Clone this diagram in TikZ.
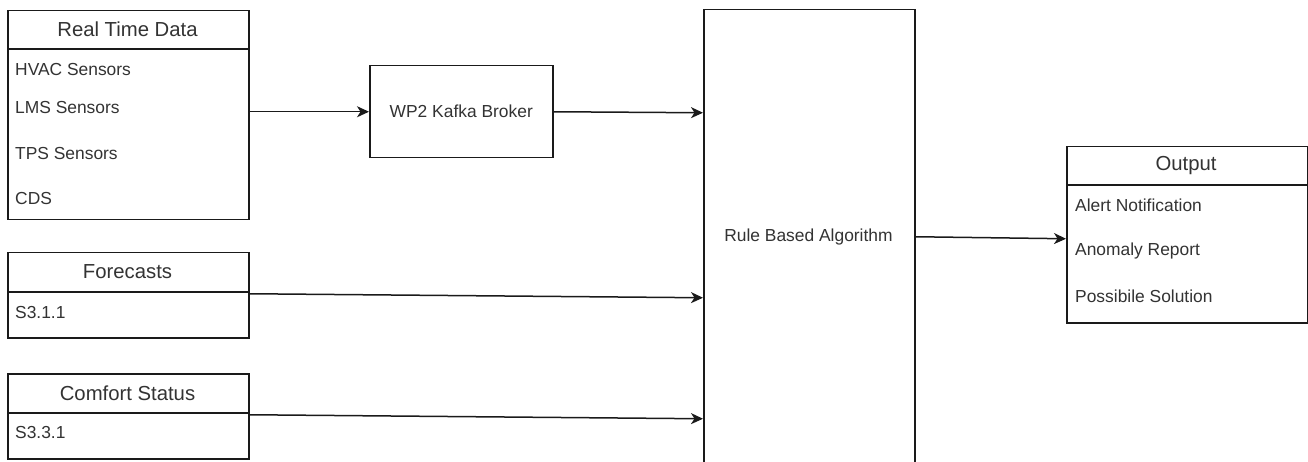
\documentclass[tikz,border=0pt]{standalone}
\usepackage{fontspec}
\setmainfont{Liberation Sans}
\usetikzlibrary{arrows.meta}
\definecolor{txt}{HTML}{333333}
\definecolor{ln}{HTML}{1A1A1A}
\tikzset{
  box/.style={draw=ln, line width=1.5pt, fill=white, rectangle, inner sep=0pt, anchor=north west},
  hdr/.style={text=txt, font=\fontsize{20.3}{24}\selectfont, inner sep=0pt},
  item/.style={text=txt, font=\fontsize{17.4}{20}\selectfont, inner sep=0pt, anchor=west},
  arr/.style={draw=ln, line width=1.5pt, -{Stealth[length=12pt,width=11pt,inset=3.5pt]}},
  divider/.style={draw=ln, line width=1.5pt}
}
\begin{document}
\begin{tikzpicture}[x=1pt,y=-1pt]
\clip (0,0) rectangle (1308,462);
\fill[white] (0,0) rectangle (1308,462);

% Real Time Data
\node[box, minimum width=241pt, minimum height=209pt] (rtd) at (7,10) {};
\draw[divider] (7,49) -- (248,49);
\node[hdr] (rtdh) at (127.5,29.5) {Real Time Data};
\node[item] (hvac) at (15,70) {HVAC Sensors};
\node[item] (lms) at (15,108) {LMS Sensors};
\node[item] (tps) at (15,154) {TPS Sensors};
\node[item] (cds) at (15,199) {CDS};

% Forecasts
\node[box, minimum width=241pt, minimum height=85pt] (fc) at (7,252) {};
\draw[divider] (7,292) -- (248,292);
\node[hdr] (fch) at (127.5,272) {Forecasts};
\node[item] (s311) at (15,313) {S3.1.1};

% Comfort Status
\node[box, minimum width=241pt, minimum height=85pt] (cs) at (7,373) {};
\draw[divider] (7,413) -- (248,413);
\node[hdr] (csh) at (127.5,393) {Comfort Status};
\node[item] (s331) at (15,433) {S3.3.1};

% Kafka
\node[box, minimum width=183pt, minimum height=92pt] (kafka) at (369,65) {};
\node[item, anchor=center] (kafkat) at (kafka.center) {WP2 Kafka Broker};

% Rule based algorithm
\node[box, minimum width=211pt, minimum height=454pt] (rule) at (703,9) {};
\node[item, anchor=center] (rulet) at (808.5,237) {Rule Based Algorithm};

% Output
\node[box, minimum width=240.5pt, minimum height=176pt] (out) at (1066,146) {};
\draw[divider] (1066,185) -- (1306.5,185);
\node[hdr] (outh) at (1186,165.5) {Output};
\node[item] (alert) at (1075,205) {Alert Notification};
\node[item] (anom) at (1075,251) {Anomaly Report};
\node[item] (sol) at (1075,296) {Possibile Solution};

% connectors
\draw[arr] (kafka.west -| rtd.east) -- (kafka.west);
\draw[arr] (kafka.east) -- ([yshift=-1pt]kafka.east -| rule.west);
\draw[arr] ([yshift=1.5pt]fc.east) -- ([yshift=-2.5pt]fc.east -| rule.west);
\draw[arr] ([yshift=1.5pt]cs.east) -- ([yshift=-2.5pt]cs.east -| rule.west);
\draw[arr] (rule.east) -- ([yshift=-2pt]rule.east -| out.west);
\end{tikzpicture}
\end{document}
